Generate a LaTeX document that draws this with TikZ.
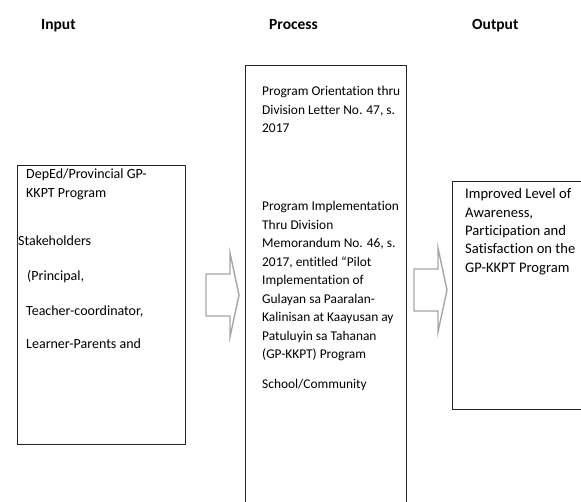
\documentclass[tikz,border=0pt]{standalone}
\usepackage{fontspec}
\setmainfont{Carlito}[Ligatures=NoCommon]
\usetikzlibrary{positioning}

\tikzset{
  frame/.style={draw=black!85, line width=1.2pt, anchor=north west, inner sep=0pt},
  blockarr/.style={draw=black!35, line width=1.4pt, fill=white, line join=miter},
  txt/.style={anchor=base west, inner sep=0pt, font=\fontsize{14}{16}\selectfont},
  ptxt/.style={txt, font=\fontsize{13.4}{16}\selectfont},
  otxt/.style={txt, font=\fontsize{14.6}{16}\selectfont},
  colhead/.style={anchor=base west, inner sep=0pt, font=\fontsize{15.5}{18}\selectfont\bfseries},
}

\begin{document}
\begin{tikzpicture}[x=1pt, y=-1pt]
  \clip (0,0) rectangle (581,502);
  % column headers
  \node[colhead] (hin)  at (41,30)  {Input};
  \node[colhead] (hpro) at (269,30) {Process};
  \node[colhead] (hout) at (472,30) {Output};
  % frames
  \node[frame, minimum width=168pt, minimum height=279pt] (inbox)  at (17,165) {};
  \node[frame, minimum width=161pt, minimum height=470pt] (probox) at (245,65)  {};
  \node[frame, minimum width=150pt, minimum height=228pt] (outbox) at (452,181) {};
  % block arrows
  \foreach \xa/\ym in {206/295, 414/290}{
    \draw[blockarr] (\xa,\ym-21) -- ++(24,0) -- ++(0,-21) -- (\xa+33,\ym)
      -- (\xa+24,\ym+42) -- ++(0,-21) -- (\xa,\ym+21) -- cycle;
  }
  % input
  \node[txt] (in1) at (26,179) {DepEd/Provincial GP-};
  \node[txt] (in2) at (26,197.5) {KKPT Program};
  \node[txt] (in3) at (18,246) {Stakeholders};
  \node[txt] (in4) at (27,281) {(Principal,};
  \node[txt] (in5) at (26,316) {Teacher-coordinator,};
  \node[txt] (in6) at (26,349) {Learner-Parents and};
  % process
  \foreach \t [count=\i from 0] in {{Program Orientation thru},
      {Division Letter No. 47, s.}, {2017}}
    \node[ptxt] (pa\i) at (262,96+18.5*\i) {\t};
  \foreach \t [count=\i from 0] in {{Program Implementation}, {Thru Division},
      {Memorandum No. 46, s.}, {2017, entitled “Pilot}, {Implementation of},
      {Gulayan sa Paaralan-}, {Kalinisan at Kaayusan ay},
      {Patuluyin sa Tahanan}, {(GP-KKPT) Program}}
    \node[ptxt] (pb\i) at (262,211+18.5*\i) {\t};
  \node[ptxt] (pc) at (262,389) {School/Community};
  % output
  \foreach \t [count=\i from 0] in {{Improved Level of}, {Awareness,},
      {Participation and}, {Satisfaction on the}, {GP-KKPT Program}}
    \node[otxt] (out\i) at (465,199+18.3*\i) {\t};
\end{tikzpicture}
\end{document}
